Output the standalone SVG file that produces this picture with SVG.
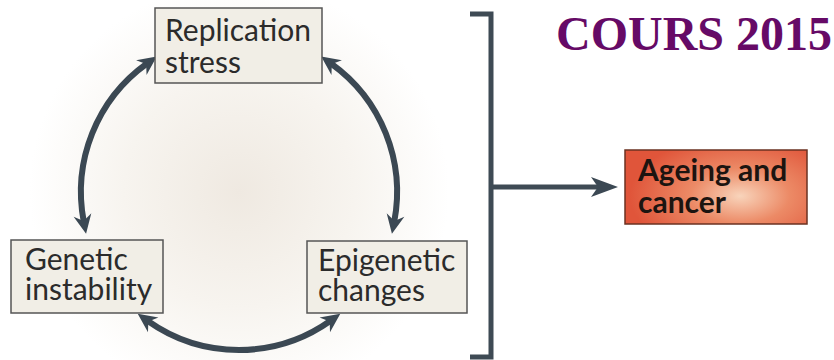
<svg xmlns="http://www.w3.org/2000/svg" width="834" height="360" viewBox="0 0 834 360">
  <defs>
    <radialGradient id="glow" cx="239" cy="192" r="210" gradientUnits="userSpaceOnUse">
      <stop offset="0" stop-color="#efe9e1"/>
      <stop offset="0.55" stop-color="#f7f4ef"/>
      <stop offset="1" stop-color="#ffffff"/>
    </radialGradient>
    <radialGradient id="hot" cx="740" cy="196" r="110" gradientUnits="userSpaceOnUse" gradientTransform="translate(740 196) scale(1 0.55) translate(-740 -196)">
      <stop offset="0" stop-color="#f8d4bb"/>
      <stop offset="0.45" stop-color="#ec8a66"/>
      <stop offset="1" stop-color="#e0553a"/>
    </radialGradient>
    <marker id="tip" markerUnits="userSpaceOnUse" markerWidth="40" markerHeight="40" orient="auto-start-reverse" overflow="visible">
      <path d="M12,0 L-7,-9 L-1,0 L-7,9 Z" fill="#3b4853"/>
    </marker>
    <marker id="bigtip" markerUnits="userSpaceOnUse" markerWidth="40" markerHeight="40" orient="auto" overflow="visible">
      <path d="M14,0 L-13,-10 L-6,0 L-13,10 Z" fill="#3b4853"/>
    </marker>
    <style>
      .box { fill: #f1eee6; stroke: #555555; stroke-width: 1.5; }
      .lbl { font-family: Lato, "Open Sans", "Liberation Sans", sans-serif; font-size: 30px; fill: #2b2b2b; }
      .bold { font-weight: bold; fill: #1c1410; }
      .link { fill: none; stroke: #3b4853; stroke-width: 6; }
      .bracket { fill: none; stroke: #3e4a54; stroke-width: 5; }
    </style>
  </defs>

  <rect x="0" y="0" width="834" height="360" fill="#ffffff"/>
  <rect x="0" y="0" width="470" height="360" fill="url(#glow)"/>

  <g id="connectors">
    <path class="link" d="M83.8,221.9 A158,158 0 0 1 147,63.5" marker-start="url(#tip)" marker-end="url(#tip)"/>
    <path class="link" d="M331,63.5 A158,158 0 0 1 394.2,221.9" marker-start="url(#tip)" marker-end="url(#tip)"/>
    <path class="link" d="M330.5,320.8 A158,158 0 0 1 147.5,320.8" marker-start="url(#tip)" marker-end="url(#tip)"/>
    <path class="bracket" d="M470,14 H491 V357 H470"/>
    <path class="bracket" d="M491,187 H604" marker-end="url(#bigtip)"/>
  </g>

  <g id="replication-stress">
    <rect class="box" x="155" y="8" width="167" height="75"/>
    <text class="lbl" x="165" y="41">Replication</text>
    <text class="lbl" x="165" y="73">stress</text>
  </g>

  <g id="genetic-instability">
    <rect class="box" x="11" y="240" width="152" height="73"/>
    <text class="lbl" x="25" y="270">Genetic</text>
    <text class="lbl" x="25" y="300">instability</text>
  </g>

  <g id="epigenetic-changes">
    <rect class="box" x="307" y="241" width="160" height="72"/>
    <text class="lbl" x="318" y="271">Epigenetic</text>
    <text class="lbl" x="318" y="301">changes</text>
  </g>

  <g id="ageing-and-cancer">
    <rect x="625" y="150" width="182" height="74" fill="url(#hot)" stroke="#6b3222" stroke-width="1.5"/>
    <text class="lbl bold" x="638" y="181">Ageing and</text>
    <text class="lbl bold" x="638" y="213">cancer</text>
  </g>

  <text x="556" y="50" font-family="'Liberation Serif', 'Times New Roman', serif" font-weight="bold" font-size="48" fill="#660a66">COURS 2015</text>
</svg>
